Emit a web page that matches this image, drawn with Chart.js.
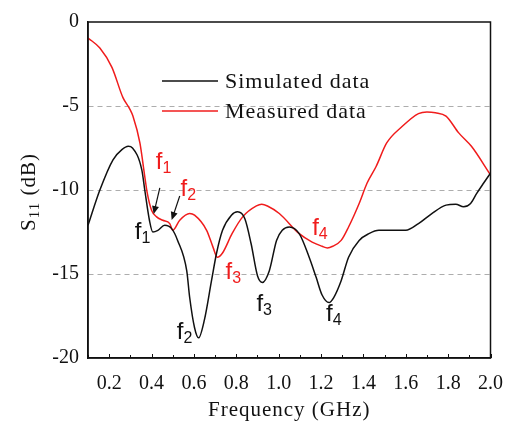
<!DOCTYPE html>
<html>
<head>
<meta charset="utf-8">
<script src="https://cdn.jsdelivr.net/npm/chart.js@4.4.0/dist/chart.umd.min.js"></script>
<style>
    html, body { margin: 0; padding: 0; background: #fff; }
    #wrap { width: 509px; height: 426px; }
</style>
</head>
<body>
<div id="wrap"><canvas id="s11Chart" width="509" height="426"></canvas></div>
<script>
// Simulated S11 (black)
const simFreq = [0.10, 0.156, 0.218, 0.26, 0.29, 0.31, 0.354, 0.368, 0.39, 0.406, 0.43, 0.462, 0.495, 0.523,
    0.566, 0.58, 0.603, 0.622, 0.65, 0.683, 0.707, 0.735, 0.777, 0.806, 0.84, 0.87, 0.90, 0.923, 0.956,
    0.99, 1.017, 1.05, 1.097, 1.144, 1.177, 1.205, 1.238, 1.26, 1.295, 1.33, 1.38, 1.426, 1.473, 1.535,
    1.60, 1.66, 1.723, 1.79, 1.836, 1.873, 1.906, 1.935, 1.967, 2.0];
const simS11 = [-12.1, -10.0, -8.2, -7.6, -7.4, -7.5, -8.8, -10.0, -11.8, -12.5, -12.4, -12.1, -12.3, -13.0,
    -14.8, -16.4, -18.2, -18.8, -17.7, -15.4, -13.75, -12.4, -11.5, -11.3, -11.7, -13.2, -15.1, -15.5, -14.8,
    -13.0, -12.4, -12.2, -12.6, -14.0, -15.2, -16.25, -16.7, -16.4, -15.4, -14.0, -13.0, -12.6, -12.4, -12.4,
    -12.4, -12.0, -11.4, -10.9, -10.85, -11.0, -10.8, -10.2, -9.6, -9.0];

// Measured S11 (red)
const measFreq = [0.10, 0.156, 0.213, 0.265, 0.298, 0.312, 0.345, 0.368, 0.38, 0.40, 0.424, 0.453, 0.486, 0.50,
    0.533, 0.58, 0.603, 0.66, 0.69, 0.71, 0.735, 0.78, 0.83, 0.895, 0.92, 0.947, 1.003, 1.097, 1.158, 1.205,
    1.23, 1.255, 1.295, 1.33, 1.38, 1.417, 1.46, 1.51, 1.58, 1.66, 1.70, 1.74, 1.79, 1.85, 1.91, 2.0];
const measS11 = [-0.95, -1.55, -2.7, -4.5, -5.2, -5.6, -7.2, -9.2, -10.2, -11.2, -11.6, -11.8, -12.0, -12.4,
    -11.8, -11.4, -11.5, -12.4, -13.4, -14.0, -13.75, -12.6, -11.6, -10.95, -10.85, -10.95, -11.4, -12.6, -13.1, -13.35,
    -13.45, -13.35, -13.0, -12.2, -10.8, -9.6, -8.6, -7.2, -6.25, -5.45, -5.35, -5.4, -5.6, -6.6, -7.4, -9.1];

const xTickLabels = ['0.2', '0.4', '0.6', '0.8', '1.0', '1.2', '1.4', '1.6', '1.8', '2.0'];
const yTickLabels = ['0', '-5', '-10', '-15', '-20'];
const seriesNames = ['Simulated data', 'Measured data'];

// resonance labels and arrows, in data units
const resLabels = [
    { sub: '1', x: 0.42, y: -8.75, red: true },
    { sub: '2', x: 0.537, y: -10.36, red: true },
    { sub: '3', x: 0.749, y: -15.3, red: true },
    { sub: '4', x: 1.158, y: -12.68, red: true },
    { sub: '1', x: 0.321, y: -12.9, red: false },
    { sub: '2', x: 0.519, y: -18.87, red: false },
    { sub: '3', x: 0.895, y: -17.2, red: false },
    { sub: '4', x: 1.224, y: -17.8, red: false }
];
const arrows = [
    { x1: 0.439, y1: -9.88, x2: 0.410, y2: -11.43 },
    { x1: 0.533, y1: -10.36, x2: 0.495, y2: -11.79 }
];

const RED = '#f01c1c';
const BLACK = '#111111';
const SERIF = '"Liberation Serif", "Times New Roman", serif';
const SANS = '"Liberation Sans", Arial, sans-serif';

const toPoints = (xs, ys) => xs.map((x, i) => ({ x: x, y: ys[i] }));

const decorPlugin = {
    id: 'decor',
    afterDraw(chart) {
        const ctx = chart.ctx;
        const area = chart.chartArea;
        const xs = chart.scales.x;
        const ys = chart.scales.y;

        ctx.save();

        // inward ticks on the x axis
        ctx.strokeStyle = BLACK;
        ctx.lineWidth = 1;
        xs.ticks.forEach(t => {
            const px = Math.round(xs.getPixelForValue(t.value)) + 0.5;
            const len = xTickLabels.includes(t.value.toFixed(1)) ? 4 : 3;
            ctx.beginPath();
            ctx.moveTo(px, area.bottom);
            ctx.lineTo(px, area.bottom - len);
            ctx.stroke();
        });

        // frame
        ctx.lineWidth = 1.5;
        ctx.strokeRect(area.left, area.top, area.right - area.left, area.bottom - area.top);

        // legend
        const sets = chart.data.datasets;
        const rows = [{ ly: 81, ty: 88 }, { ly: 111, ty: 118 }];
        ctx.font = '22px ' + SERIF;
        ctx.letterSpacing = '1px';
        ctx.textBaseline = 'alphabetic';
        ctx.textAlign = 'left';
        rows.forEach((r, i) => {
            ctx.strokeStyle = sets[i].borderColor;
            ctx.lineWidth = 1.5;
            ctx.beginPath();
            ctx.moveTo(162, r.ly);
            ctx.lineTo(218, r.ly);
            ctx.stroke();
            ctx.fillStyle = BLACK;
            ctx.fillText(sets[i].label, 225, r.ty);
        });

        // axis titles
        ctx.font = '21px ' + SERIF;
        ctx.textAlign = 'center';
        ctx.textBaseline = 'middle';
        ctx.fillText('Frequency (GHz)', (area.left + area.right) / 2, 410);

        ctx.save();
        ctx.translate(27, 192);
        ctx.rotate(-Math.PI / 2);
        ctx.textAlign = 'left';
        ctx.textBaseline = 'alphabetic';
        const wS = ctx.measureText('S').width;
        ctx.font = '15px ' + SERIF;
        const w11 = ctx.measureText('11').width;
        ctx.font = '21px ' + SERIF;
        const wRest = ctx.measureText(' (dB)').width;
        let cx = -(wS + w11 + wRest) / 2;
        ctx.fillText('S', cx, 8);
        cx += wS;
        ctx.font = '15px ' + SERIF;
        ctx.fillText('11', cx, 12);
        cx += w11;
        ctx.font = '21px ' + SERIF;
        ctx.fillText(' (dB)', cx, 8);
        ctx.restore();
        ctx.letterSpacing = '0px';

        // arrows
        ctx.strokeStyle = BLACK;
        ctx.fillStyle = BLACK;
        ctx.lineWidth = 1.2;
        arrows.forEach(a => {
            const x1 = xs.getPixelForValue(a.x1), y1 = ys.getPixelForValue(a.y1);
            const x2 = xs.getPixelForValue(a.x2), y2 = ys.getPixelForValue(a.y2);
            const ang = Math.atan2(y2 - y1, x2 - x1);
            ctx.beginPath();
            ctx.moveTo(x1, y1);
            ctx.lineTo(x2 - 5 * Math.cos(ang), y2 - 5 * Math.sin(ang));
            ctx.stroke();
            ctx.beginPath();
            ctx.moveTo(x2, y2);
            ctx.lineTo(x2 - 8 * Math.cos(ang) + 3.5 * Math.sin(ang), y2 - 8 * Math.sin(ang) - 3.5 * Math.cos(ang));
            ctx.lineTo(x2 - 8 * Math.cos(ang) - 3.5 * Math.sin(ang), y2 - 8 * Math.sin(ang) + 3.5 * Math.cos(ang));
            ctx.closePath();
            ctx.fill();
        });

        // f labels
        ctx.textAlign = 'left';
        ctx.textBaseline = 'alphabetic';
        resLabels.forEach(l => {
            const px = xs.getPixelForValue(l.x);
            const py = ys.getPixelForValue(l.y);
            ctx.fillStyle = l.red ? RED : BLACK;
            ctx.font = '24px ' + SANS;
            ctx.fillText('f', px, py);
            const wf = ctx.measureText('f').width;
            ctx.font = '16px ' + SANS;
            ctx.fillText(l.sub, px + wf, py + 4);
        });

        ctx.restore();
    }
};

const chart = new Chart(document.getElementById('s11Chart').getContext('2d'), {
    type: 'line',
    data: {
        datasets: [{
            label: seriesNames[0],
            data: toPoints(simFreq, simS11),
            borderColor: BLACK,
            borderWidth: 1.5,
            pointRadius: 0,
            cubicInterpolationMode: 'monotone',
            fill: false
        }, {
            label: seriesNames[1],
            data: toPoints(measFreq, measS11),
            borderColor: RED,
            borderWidth: 1.5,
            pointRadius: 0,
            cubicInterpolationMode: 'monotone',
            fill: false
        }]
    },
    options: {
        responsive: false,
        animation: false,
        events: [],
        layout: { padding: { top: 22, right: 17, left: 0, bottom: 0 } },
        plugins: {
            legend: { display: false },
            tooltip: { enabled: false }
        },
        scales: {
            x: {
                type: 'linear',
                min: 0.1,
                max: 2.0,
                afterFit: scale => { scale.height = 68; },
                ticks: {
                    stepSize: 0.1,
                    maxTicksLimit: 30,
                    autoSkip: false,
                    maxRotation: 0,
                    padding: 6,
                    color: BLACK,
                    font: { family: SERIF, size: 20 },
                    callback: v => {
                        const s = Number(v).toFixed(1);
                        return xTickLabels.includes(s) ? s : '';
                    }
                },
                grid: { display: false },
                border: { display: true, color: BLACK, width: 1.5 }
            },
            y: {
                min: -20,
                max: 0,
                afterFit: scale => { scale.width = 88; },
                ticks: {
                    stepSize: 5,
                    padding: 9,
                    color: BLACK,
                    font: { family: SERIF, size: 20 },
                    callback: v => {
                        const s = String(v);
                        return yTickLabels.includes(s) ? s : '';
                    }
                },
                grid: {
                    drawTicks: false,
                    lineWidth: 1,
                    color: c => (c.tick && (c.tick.value === 0 || c.tick.value === -20)) ? 'rgba(0,0,0,0)' : '#adadad'
                },
                border: { display: true, color: BLACK, width: 1.5, dash: [5, 4] }
            }
        }
    },
    plugins: [decorPlugin]
});
</script>
</body>
</html>
